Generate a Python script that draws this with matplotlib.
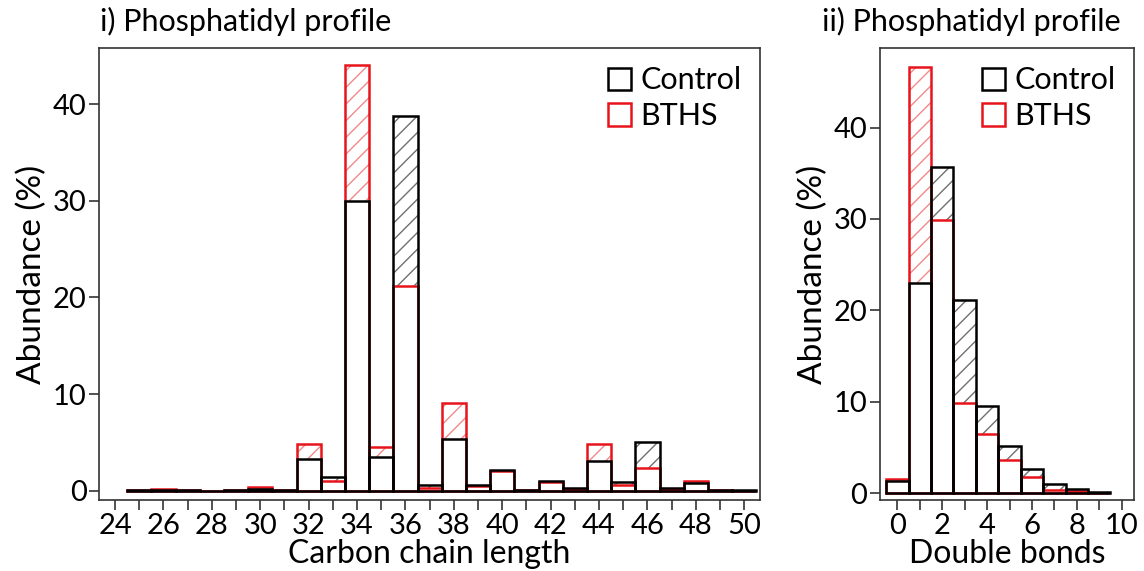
import matplotlib.pyplot as plt
from matplotlib.patches import Patch
from matplotlib.ticker import MultipleLocator
import numpy as np

plt.rcParams['font.family'] = ['Lato', 'DejaVu Sans']
plt.rcParams['hatch.linewidth'] = 1.0

# carbon chain length profile
chain_len = np.arange(25, 51)
chain_control = [0.05, 0.05, 0.05, 0.0, 0.05, 0.2, 0.05, 3.3, 1.45, 30.0, 3.5, 38.8, 0.6,
                 5.4, 0.6, 2.2, 0.1, 1.0, 0.3, 3.1, 0.9, 5.05, 0.3, 0.85, 0.05, 0.05]
chain_bths = [0.05, 0.15, 0.1, 0.0, 0.05, 0.35, 0.05, 4.8, 1.05, 44.0, 4.5, 21.2, 0.25,
              9.1, 0.45, 2.1, 0.1, 0.95, 0.15, 4.8, 0.6, 2.4, 0.2, 1.05, 0.05, 0.0]

# double bond profile
dbonds = np.arange(0, 10)
db_control = [1.3, 23.0, 35.7, 21.1, 9.5, 5.2, 2.6, 1.03, 0.48, 0.1]
db_bths = [1.55, 46.6, 29.9, 9.86, 6.43, 3.65, 1.75, 0.4, 0.2, 0.05]

c_black = '#000000'
c_red = '#e8141c'
hatch_colors = {'control': '#707070', 'bths': '#f08a8a'}


def draw_profile(ax, x, control, bths):
    control = np.asarray(control)
    bths = np.asarray(bths)
    lo = np.minimum(control, bths)
    diff = np.abs(control - bths)
    hc = [hatch_colors['control'] if c >= b else hatch_colors['bths'] for c, b in zip(control, bths)]
    for xi, l, d, col in zip(x, lo, diff, hc):
        ax.bar(xi, d, bottom=l, width=1, fill=False, edgecolor=col, linewidth=0, hatch='//')
    ax.bar(x, bths, width=1, fill=False, edgecolor=c_red, linewidth=1.8)
    ax.bar(x, control, width=1, fill=False, edgecolor=c_black, linewidth=1.8)
    for s in ax.spines.values():
        s.set_color('#333333')
        s.set_linewidth(1.2)
    ax.tick_params(which='both', direction='out', length=7, width=1.2, color='#333333',
                   labelsize=21, pad=2)
    ax.set_ylabel('Abundance (%)', fontsize=24, labelpad=4)
    ax.legend(handles=[Patch(facecolor='none', edgecolor=c_black, linewidth=1.8, label='Control'),
                       Patch(facecolor='none', edgecolor=c_red, linewidth=1.8, label='BTHS')],
              loc='upper right', frameon=False, fontsize=22, handlelength=0.75, handleheight=0.75,
              handletextpad=0.3, labelspacing=0.25, borderaxespad=0.2)


fig = plt.figure(figsize=(11.44, 5.71), dpi=100)
ax1 = fig.add_axes([0.0868, 0.1243, 0.5775, 0.7915])
ax2 = fig.add_axes([0.7692, 0.1243, 0.2220, 0.7915])

draw_profile(ax1, chain_len, chain_control, chain_bths)
ax1.set_xlim(23.35, 50.65)
ax1.set_ylim(-0.95, 45.8)
ax1.xaxis.set_major_locator(MultipleLocator(2))
ax1.xaxis.set_minor_locator(MultipleLocator(1))
ax1.yaxis.set_major_locator(MultipleLocator(10))
ax1.set_xlabel('Carbon chain length', fontsize=23, labelpad=0)

draw_profile(ax2, dbonds, db_control, db_bths)
ax2.set_xlim(-0.78, 10.55)
ax2.set_ylim(-0.75, 48.7)
ax2.xaxis.set_major_locator(MultipleLocator(2))
ax2.xaxis.set_minor_locator(MultipleLocator(1))
ax2.yaxis.set_major_locator(MultipleLocator(10))
ax2.set_xlabel('Double bonds', fontsize=23, labelpad=0)

fig.text(0.0874, 0.962, 'i) Phosphatidyl profile', fontsize=22, va='center', ha='left')
fig.text(0.7185, 0.962, 'ii) Phosphatidyl profile', fontsize=22, va='center', ha='left')

fig.savefig('out.png', dpi=100)
